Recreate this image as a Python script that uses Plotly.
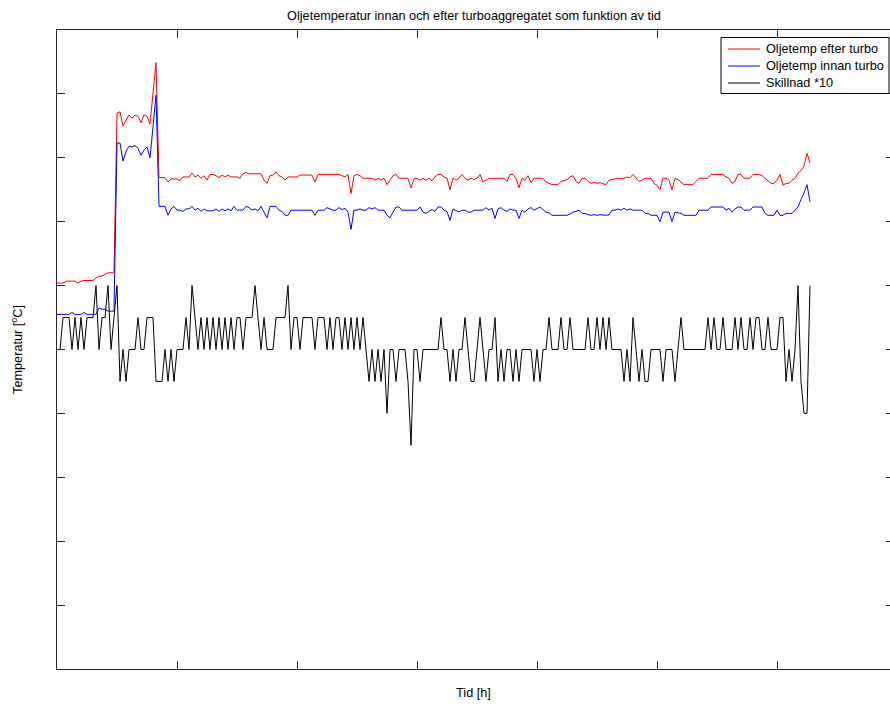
import plotly.graph_objects as go

# ---- data (time step in hours) ----
T_START = 0.0
T_STEP = 0.025  # h between samples

efter_turbo = [
    60.4, 60.4, 60.4, 60.7, 60.7, 60.7, 60.7, 60.4, 60.7, 60.8,
    60.8, 60.8, 60.8, 61.2, 61.5, 61.5, 61.8, 62.0, 62.0, 62.0,
    87.0, 87.2, 85.0, 85.8, 86.7, 86.2, 86.7, 86.5, 85.5, 86.7,
    86.5, 85.3, 90.6, 94.9, 76.9, 76.9, 76.9, 76.2, 76.7, 76.7,
    76.7, 76.4, 77.0, 77.0, 77.0, 77.6, 77.0, 77.3, 76.8, 77.2,
    76.5, 77.4, 77.4, 77.2, 76.9, 77.3, 77.0, 77.3, 77.0, 77.0,
    77.0, 76.8, 77.5, 77.7, 77.5, 77.5, 77.5, 77.5, 77.5, 76.5,
    76.0, 77.2, 77.3, 77.8, 77.2, 77.0, 76.5, 77.0, 77.0, 77.0,
    77.0, 77.3, 77.3, 77.3, 77.3, 77.3, 76.2, 77.4, 77.4, 77.4,
    77.4, 77.4, 77.4, 77.4, 77.4, 77.2, 77.0, 77.4, 74.4, 77.2,
    77.4, 77.2, 76.8, 76.8, 76.8, 76.8, 76.5, 76.8, 76.5, 76.8,
    75.8, 76.5, 77.2, 77.4, 76.8, 76.8, 76.8, 76.8, 75.3, 76.7,
    76.8, 76.5, 76.8, 76.5, 76.8, 76.4, 77.0, 77.4, 77.4, 77.0,
    76.8, 75.0, 76.8, 76.5, 76.8, 77.4, 76.8, 76.5, 76.8, 76.6,
    76.8, 77.4, 76.2, 76.5, 76.8, 76.8, 76.8, 76.8, 76.8, 76.8,
    76.3, 77.4, 77.4, 76.8, 75.3, 76.8, 76.5, 77.2, 76.1, 76.8,
    76.8, 76.8, 76.8, 76.2, 76.0, 75.8, 75.8, 75.8, 76.3, 76.5,
    76.6, 77.0, 77.2, 76.3, 76.0, 76.8, 76.8, 76.3, 76.0, 76.2,
    76.0, 76.1, 75.9, 75.8, 76.5, 76.6, 76.8, 76.8, 76.8, 76.8,
    77.0, 76.9, 77.4, 76.8, 76.3, 76.5, 76.8, 76.8, 76.8, 76.0,
    75.7, 75.0, 76.8, 76.8, 76.5, 75.0, 76.8, 76.6, 76.2, 75.8,
    75.8, 75.8, 75.8, 76.3, 76.8, 76.8, 76.8, 76.8, 77.4, 77.4,
    77.4, 77.4, 77.4, 77.0, 76.8, 76.0, 76.3, 77.4, 77.4, 76.8,
    76.8, 76.8, 77.4, 77.4, 77.4, 77.2, 76.8, 76.3, 76.0, 76.0,
    76.5, 77.4, 75.7, 76.0, 76.0, 76.5, 76.8, 77.6, 78.0, 78.7,
    80.7, 79.2,
]

innan_turbo = [
    55.5, 55.5, 55.5, 55.5, 55.5, 55.8, 55.5, 55.5, 55.5, 55.8,
    55.5, 55.5, 55.5, 55.5, 56.5, 56.3, 56.3, 56.0, 56.0, 56.0,
    82.3, 82.3, 79.5, 81.0, 81.8, 81.7, 81.9, 81.5, 80.4, 81.2,
    81.7, 80.0, 84.8, 89.8, 72.4, 72.4, 72.4, 71.0, 72.0, 72.4,
    71.8, 71.8, 71.6, 72.0, 72.0, 72.4, 71.8, 72.1, 71.6, 72.0,
    71.7, 71.7, 71.7, 72.0, 71.6, 72.0, 71.7, 72.0, 71.7, 72.4,
    71.8, 71.8, 71.8, 72.4, 72.2, 71.8, 72.0, 71.7, 72.4, 71.5,
    70.6, 72.4, 72.4, 72.4, 71.8, 71.6, 71.0, 71.0, 71.8, 71.8,
    71.8, 71.8, 71.8, 71.8, 71.8, 71.8, 71.0, 71.8, 71.8, 71.8,
    72.2, 72.0, 71.8, 71.8, 72.2, 71.9, 72.1, 71.5, 68.8, 71.8,
    71.8, 72.0, 71.8, 71.8, 72.2, 72.0, 72.2, 71.8, 71.8, 71.8,
    71.0, 70.6, 71.5, 72.3, 72.3, 71.8, 71.8, 71.8, 71.8, 71.8,
    71.8, 72.3, 71.5, 71.3, 71.6, 71.9, 71.6, 72.3, 72.3, 71.8,
    71.6, 70.2, 72.0, 71.8, 71.5, 71.8, 71.8, 71.5, 71.5, 71.8,
    71.8, 71.8, 71.8, 72.2, 71.8, 72.1, 70.5, 72.0, 72.2, 71.8,
    71.6, 72.0, 71.8, 71.8, 70.5, 71.8, 71.5, 72.0, 72.2, 71.8,
    72.1, 72.3, 71.9, 71.5, 71.4, 71.0, 71.0, 71.0, 71.0, 71.0,
    71.0, 71.2, 71.5, 71.6, 71.8, 71.3, 71.3, 71.1, 71.0, 71.1,
    71.0, 71.1, 71.0, 71.0, 71.1, 71.8, 71.8, 72.0, 71.8, 72.1,
    71.8, 72.0, 71.8, 71.8, 71.8, 71.8, 71.3, 71.3, 71.0, 71.0,
    71.0, 70.0, 71.5, 71.5, 71.5, 70.0, 71.5, 71.4, 71.3, 71.0,
    71.0, 71.0, 71.0, 71.0, 71.8, 71.8, 71.8, 71.8, 72.3, 72.3,
    72.3, 72.3, 72.3, 71.8, 72.1, 71.5, 72.0, 72.3, 72.3, 71.8,
    71.8, 71.8, 72.3, 72.3, 72.3, 72.3, 71.3, 71.0, 71.0, 71.0,
    71.8, 71.0, 71.0, 71.3, 71.3, 71.3, 71.8, 72.3, 73.5, 74.5,
    75.8, 73.1,
]

skillnad_x10 = [
    50, 50, 55, 55, 55, 50, 55, 50, 55, 50,
    55, 55, 55, 60, 50, 55, 55, 60, 50, 55,
    60, 45, 50, 45, 50, 50, 50, 55, 50, 50,
    55, 55, 55, 45, 45, 45, 50, 45, 50, 45,
    50, 50, 50, 55, 50, 60, 55, 50, 55, 50,
    55, 50, 55, 50, 55, 50, 55, 50, 55, 50,
    55, 55, 50, 55, 55, 55, 60, 55, 50, 55,
    50, 50, 50, 55, 55, 55, 55, 60, 50, 55,
    55, 50, 55, 55, 55, 55, 50, 55, 55, 55,
    50, 55, 50, 55, 55, 50, 55, 50, 55, 50,
    55, 50, 55, 50, 45, 50, 45, 50, 45, 50,
    40, 50, 50, 45, 50, 50, 50, 45, 35, 50,
    50, 45, 50, 50, 50, 50, 50, 50, 55, 50,
    50, 45, 50, 45, 50, 50, 55, 50, 45, 45,
    50, 55, 50, 45, 50, 50, 55, 45, 50, 45,
    50, 50, 45, 50, 45, 50, 50, 50, 50, 45,
    50, 45, 50, 50, 55, 50, 50, 50, 55, 50,
    50, 55, 50, 50, 50, 50, 50, 55, 50, 50,
    55, 50, 55, 50, 55, 50, 50, 50, 50, 45,
    50, 45, 55, 50, 45, 50, 45, 45, 50, 50,
    50, 50, 45, 50, 50, 50, 45, 50, 55, 50,
    50, 50, 50, 50, 50, 50, 50, 55, 50, 55,
    50, 50, 55, 50, 50, 50, 55, 50, 55, 50,
    50, 55, 50, 55, 55, 50, 50, 55, 50, 50,
    50, 55, 55, 45, 50, 45, 50, 60, 45, 40,
    40, 60,
]

series_names = ["Oljetemp efter turbo", "Oljetemp innan turbo", "Skillnad *10"]
series_colors = ["#ff0000", "#0000ff", "#000000"]
x_tick_values = [1, 2, 3, 4, 5, 6]
y_tick_values = [10, 20, 30, 40, 50, 60, 70, 80, 90]

tid = [T_START + k * T_STEP for k in range(len(efter_turbo))]

FONT = "Liberation Sans, Arial, Helvetica, sans-serif"
FS = 12.7
AXC = "#262626"

# plot area in pixels (for layout placement of the legend box)
PL, PR, PT, PB = 57, 890, 30, 669


def px_x(p):
    return (p - PL) / (PR - PL)


def px_y(p):
    return (PB - p) / (PB - PT)


fig = go.Figure()
for name, vals, col in zip(series_names, [efter_turbo, innan_turbo, skillnad_x10], series_colors):
    fig.add_trace(go.Scatter(x=tid, y=vals, mode="lines", name=name,
                             line=dict(color=col, width=1), showlegend=False))
# empty trace so the right-hand tick axis is drawn
fig.add_trace(go.Scatter(x=[], y=[], yaxis="y2", showlegend=False, hoverinfo="skip"))

# legend box (MATLAB style: 17 px rows)
shapes = [dict(type="rect", xref="paper", yref="paper",
               x0=px_x(721), x1=px_x(889), y0=px_y(93.5), y1=px_y(37.5),
               line=dict(color="#000000", width=1), fillcolor="white", layer="above")]
annotations = []
row_y = [49, 66, 83]
for name, col, ry in zip(series_names, series_colors, row_y):
    shapes.append(dict(type="line", xref="paper", yref="paper",
                       x0=px_x(728), x1=px_x(760), y0=px_y(ry), y1=px_y(ry),
                       line=dict(color=col, width=1), layer="above"))
    annotations.append(dict(text=name, xref="paper", yref="paper", x=px_x(764), y=px_y(ry),
                            xanchor="left", yanchor="middle", showarrow=False,
                            font=dict(size=FS, family=FONT, color="#000000")))

fig.update_layout(
    width=890, height=704,
    margin=dict(l=PL, r=0, t=PT, b=704 - PB),
    paper_bgcolor="white", plot_bgcolor="white",
    font=dict(family=FONT, size=FS, color="#000000"),
    title=dict(text="Oljetemperatur innan och efter turboaggregatet som funktion av tid",
               x=474 / 890, xanchor="center", y=1 - 16 / 704, yanchor="middle",
               font=dict(size=FS, family=FONT)),
    showlegend=False,
    shapes=shapes,
    annotations=annotations,
    xaxis=dict(range=[0, 833 / 120], tickvals=x_tick_values, showticklabels=False,
               ticks="inside", ticklen=8, tickcolor=AXC, showline=True, linecolor=AXC,
               linewidth=1, mirror="ticks", showgrid=False, zeroline=False,
               title=dict(text="Tid [h]", font=dict(size=FS, family=FONT), standoff=19)),
    yaxis=dict(range=[0, 100], tickvals=y_tick_values, showticklabels=False,
               ticks="inside", ticklen=8, tickcolor=AXC, showline=True, linecolor=AXC,
               linewidth=1, mirror=False, showgrid=False, zeroline=False,
               title=dict(text="Temperatur [<sup>o</sup>C]", font=dict(size=FS, family=FONT),
                          standoff=30)),
    yaxis2=dict(range=[0, 100], overlaying="y", side="right", tickvals=y_tick_values,
                showticklabels=False, ticks="inside", ticklen=4, tickcolor=AXC,
                showline=False, showgrid=False, zeroline=False),
)

fig.write_html("out.html")
